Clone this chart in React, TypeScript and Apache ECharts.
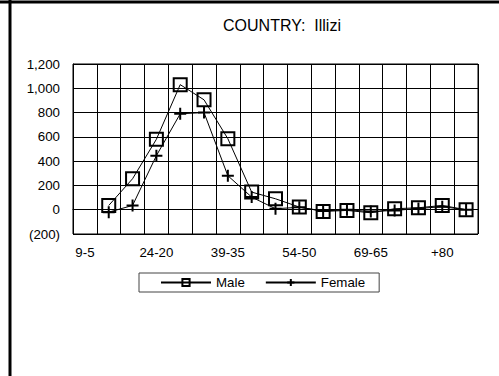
import React, { useEffect, useRef } from "react";
import * as echarts from "echarts";

const categories = ["4-0", "9-5", "14-10", "19-15", "24-20", "29-25", "34-30", "39-35", "44-40", "49-45", "54-50", "59-55", "64-60", "69-65", "74-70", "79-75", "+80"];
const maleValues = [null, 35, 255, 580, 1030, 905, 585, 145, 90, 22, -14, -6, -25, 8, 16, 35, 0];
const femaleValues = [null, -20, 35, 445, 790, 800, 280, 104, 8, 20, -10, 0, -15, -6, 10, 25, 0];
const yTicks = { min: -200, max: 1200, interval: 200 };
const titleText = "COUNTRY:  Illizi";

export default function App() {
  const ref = useRef<HTMLDivElement>(null);
  useEffect(() => {
    if (!ref.current) return;
    const chart = echarts.init(ref.current, null, { renderer: "svg" });
    const font = "Liberation Sans, Arial, sans-serif";
    const fs = 13.3;
    chart.setOption({
      animation: false,
      backgroundColor: "#fff",
      textStyle: { fontFamily: font, color: "#000" },
      grid: { left: 73, right: 21, top: 64, bottom: 142, show: true, borderColor: "#000", borderWidth: 1 },
      graphic: [
        { type: "line", shape: { x1: 0, y1: 2, x2: 499, y2: 2 }, style: { stroke: "#000", lineWidth: 3 } },
        { type: "line", shape: { x1: 10, y1: 0, x2: 10, y2: 376 }, style: { stroke: "#000", lineWidth: 3 } },
        {
          type: "text", x: 282, y: 25,
          style: { text: titleText, textAlign: "center", textVerticalAlign: "middle", fontSize: 16, fontFamily: font, fill: "#000" },
        },
      ],
      legend: {
        left: 139, top: 273,
        borderColor: "#444", borderWidth: 1, padding: [3, 14, 3, 21],
        itemWidth: 50, itemHeight: 9, itemGap: 20,
        textStyle: { fontSize: fs, fontFamily: font, color: "#000" },
        data: ["Male", "Female"],
      },
      xAxis: {
        type: "category",
        data: categories,
        boundaryGap: true,
        axisLine: { show: true, lineStyle: { color: "#000" } },
        axisTick: { show: false },
        splitLine: { show: true, interval: 0, lineStyle: { color: "#000", width: 1 } },
        axisLabel: {
          interval: (i: number) => i % 3 === 0,
          formatter: (_v: string, i: number) => categories[i + 1] ?? "",
          fontSize: fs, color: "#000", margin: 12, fontFamily: font,
        },
      },
      yAxis: {
        type: "value",
        min: yTicks.min, max: yTicks.max, interval: yTicks.interval,
        axisLine: { show: true, lineStyle: { color: "#000" } },
        axisTick: { show: false },
        splitLine: { show: true, lineStyle: { color: "#000", width: 1 } },
        axisLabel: {
          fontSize: fs, color: "#000", margin: 13, fontFamily: font,
          formatter: (v: number) => (v < 0 ? `(${Math.abs(v).toLocaleString("en-US")})` : v.toLocaleString("en-US")),
        },
      },
      series: [
        {
          name: "Male", type: "line", data: maleValues,
          symbol: "rect", symbolSize: 13,
          lineStyle: { color: "#000", width: 1 },
          itemStyle: { color: "rgba(0,0,0,0)", borderColor: "#000", borderWidth: 2 },
        },
        {
          name: "Female", type: "line", data: femaleValues,
          symbol: "path://M0,5L10,5M5,0L5,10", symbolSize: 12,
          lineStyle: { color: "#000", width: 1 },
          itemStyle: { color: "#000", borderColor: "#000", borderWidth: 2 },
        },
      ],
    });
    return () => chart.dispose();
  }, []);
  return <div ref={ref} style={{ position: "fixed", left: 0, top: 0, width: 499, height: 376 }} />;
}
